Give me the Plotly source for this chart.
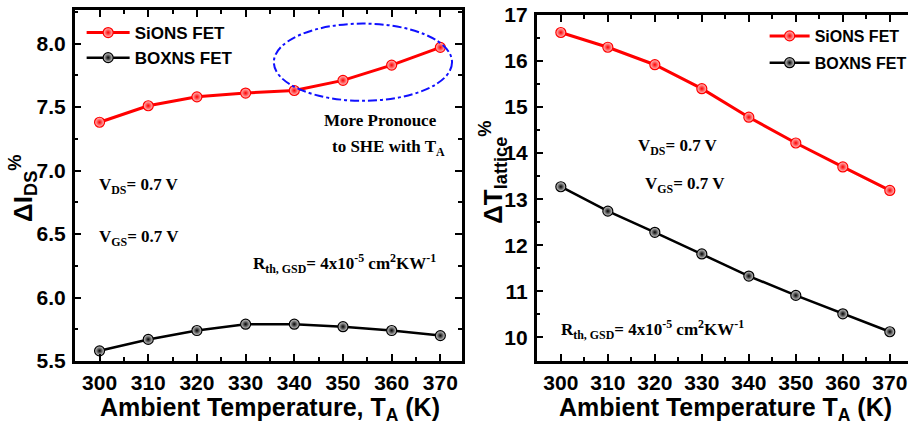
import plotly.graph_objects as go

# Ambient temperature sweep (K)
temps = [300, 310, 320, 330, 340, 350, 360, 370]

# Drain-current degradation, ΔI_DS (%)
ids_sions = [7.38, 7.51, 7.58, 7.61, 7.63, 7.71, 7.83, 7.97]
ids_boxns = [5.58, 5.67, 5.74, 5.79, 5.79, 5.77, 5.74, 5.70]

# Lattice temperature rise, ΔT_lattice (%)
tl_sions = [16.62, 16.30, 15.92, 15.40, 14.78, 14.22, 13.70, 13.19]
tl_boxns = [13.27, 12.74, 12.28, 11.81, 11.33, 10.91, 10.51, 10.12]

x_ticks = [300, 310, 320, 330, 340, 350, 360, 370]
ids_ticks = [5.5, 6.0, 6.5, 7.0, 7.5, 8.0]
tl_ticks = [10, 11, 12, 13, 14, 15, 16, 17]

SANS = "Liberation Sans, Arial, sans-serif"
SERIF = "Liberation Serif, Times New Roman, serif"
RED = "#ff0000"
BLACK = "#000000"

W, H = 912, 427


def px_x(p):
    return p / W


def px_y(p):
    return 1 - p / H


fig = go.Figure()


def add_series(x, y, name, color, light, width, xa, ya, legend, group):
    fig.add_trace(go.Scatter(
        x=x, y=y, name=name, mode="lines+markers",
        xaxis=xa, yaxis=ya, legend=legend, legendgroup=group,
        line=dict(color=color, width=width),
        marker=dict(symbol="circle", size=10, color=light,
                    gradient=dict(type="radial", color=color),
                    line=dict(color=color, width=1.2)),
    ))


add_series(temps, ids_sions, "SiONS FET", RED, "#ffc8c8", 3, "x", "y", "legend", "a1")
add_series(temps, ids_boxns, "BOXNS FET", BLACK, "#d8d8d8", 2.5, "x", "y", "legend", "a1")
add_series(temps, tl_sions, "SiONS FET", RED, "#ffc8c8", 3, "x2", "y2", "legend2", "b1")
add_series(temps, tl_boxns, "BOXNS FET", BLACK, "#d8d8d8", 2.5, "x2", "y2", "legend2", "b2")

tickfont = dict(family=SANS, size=21, color="black", weight=700)
axis_common = dict(
    showline=True, linecolor="black", linewidth=2.5,
    ticks="inside", ticklen=7, tickwidth=2, tickcolor="black",
    showgrid=False, zeroline=False, tickfont=tickfont, automargin=False,
)
minor_x = dict(ticks="inside", ticklen=4, tickwidth=1.5, tickcolor="black", dtick=5, showgrid=False)

fig.update_layout(
    width=W, height=H,
    margin=dict(l=0, r=0, t=0, b=0),
    paper_bgcolor="white", plot_bgcolor="white",
    xaxis=dict(domain=[px_x(75), px_x(464)], range=[294.89, 374.44],
               tickvals=x_ticks, mirror="ticks", anchor="y",
               minor=minor_x, ticklabelstandoff=1, **axis_common),
    yaxis=dict(domain=[px_y(361), px_y(10)], range=[5.5, 8.264],
               tickvals=ids_ticks, ticktext=[f"{v:.1f}" for v in ids_ticks],
               mirror="ticks", anchor="x",
               minor=dict(ticks="inside", ticklen=4, tickwidth=1.5, tickcolor="black",
                          dtick=0.25, showgrid=False),
               ticklabelstandoff=2, **axis_common),
    xaxis2=dict(domain=[px_x(539), 1.0], range=[294.85, 373.87],
                tickvals=x_ticks, mirror="ticks", anchor="y2",
                minor=minor_x, ticklabelstandoff=1, **axis_common),
    yaxis2=dict(domain=[px_y(361), px_y(15)], range=[9.485, 17.0],
                tickvals=tl_ticks, mirror=False, anchor="x2",
                minor=dict(ticks="inside", ticklen=4, tickwidth=1.5, tickcolor="black",
                           dtick=0.5, showgrid=False),
                ticklabelstandoff=2, **axis_common),
    legend=dict(x=px_x(82), y=px_y(15), xanchor="left", yanchor="top",
                bgcolor="rgba(0,0,0,0)", itemwidth=43,
                font=dict(family=SANS, size=17, color="black", weight=700),
                tracegroupgap=0),
    legend2=dict(x=px_x(768), y=px_y(19), xanchor="left", yanchor="top",
                 bgcolor="rgba(0,0,0,0)", itemwidth=40,
                 font=dict(family=SANS, size=16, color="black", weight=700),
                 tracegroupgap=3),
    showlegend=True,
)

# Highlight ellipse around the high-temperature SiONS points
fig.add_shape(type="circle", xref="x", yref="y",
              x0=335.8, x1=372.4, y0=7.549, y1=8.157,
              line=dict(color="#1010ff", width=2, dash="dashdot"))

serif = dict(family=SERIF, size=17, color="black", weight=700)
sans_title = dict(family=SANS, size=25, color="black", weight=700)
sans_ytitle = dict(family=SANS, size=26, color="black", weight=700)


def note(text, x, y, xref, yref, xanchor="left", font=serif, angle=0):
    fig.add_annotation(text=text, x=x, y=y, xref=xref, yref=yref,
                       xanchor=xanchor, yanchor="middle", showarrow=False,
                       font=font, textangle=angle)


# Left panel labels
note("V<sub>DS</sub>= 0.7 V", 299.4, 6.88, "x", "y")
note("V<sub>GS</sub>= 0.7 V", 299.4, 6.47, "x", "y")
note("R<sub>th, GSD</sub>= 4x10<sup>-5</sup> cm<sup>2</sup>KW<sup>-1</sup>", 331.1, 6.27, "x", "y")
note("More Pronouce", 357.8, 7.39, "x", "y", xanchor="center")
note("to SHE with T<sub>A</sub>", 359.4, 7.18, "x", "y", xanchor="center")

# Right panel labels
note("V<sub>DS</sub>= 0.7 V", 316.0, 14.14, "x2", "y2")
note("V<sub>GS</sub>= 0.7 V", 317.5, 13.31, "x2", "y2")
note("R<sub>th, GSD</sub>= 4x10<sup>-5</sup> cm<sup>2</sup>KW<sup>-1</sup>", 299.7, 10.16, "x2", "y2")

# Axis titles
note("Ambient Temperature, T<sub>A</sub> (K)", px_x(271), px_y(409), "paper", "paper",
     xanchor="center", font=sans_title)
note("Ambient Temperature T<sub>A</sub> (K)", px_x(729), px_y(409), "paper", "paper",
     xanchor="center", font=sans_title)
note("ΔI<sub>DS</sub><sup>%</sup>", px_x(23), px_y(188), "paper", "paper",
     xanchor="center", font=sans_ytitle, angle=-90)
note("ΔT<sub>lattice</sub><sup>%</sup>", px_x(495), px_y(172), "paper", "paper",
     xanchor="center", font=sans_ytitle, angle=-90)

fig.write_html("out.html")
